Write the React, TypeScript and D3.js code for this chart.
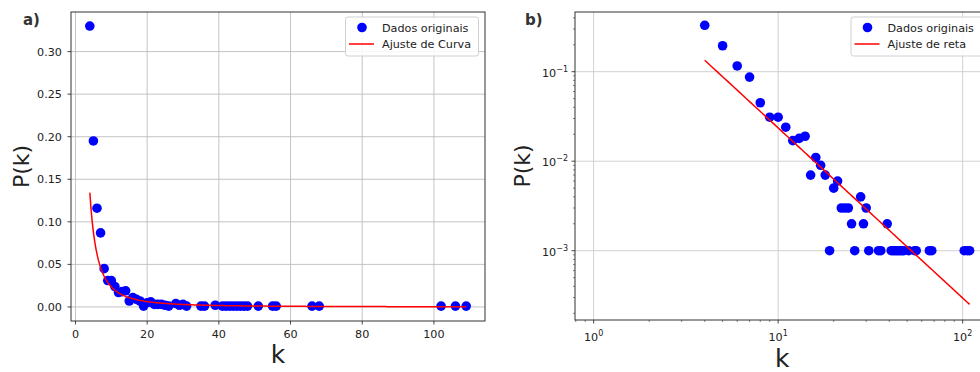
import React from "react";
import * as d3 from "d3";

// Degree distribution: node degree k and its observed probability P(k)
const degrees = [
  4, 5, 6, 7, 8, 9, 10, 11, 12, 13, 14, 15, 16, 17, 18, 19, 20, 21, 22, 23, 24, 25, 26,
  28, 29, 30, 31, 35, 36, 39, 41, 42, 43, 44, 45, 46, 47, 48, 51, 55, 56, 66, 68, 102, 106, 109,
];
const probabilities = [
  0.33, 0.195, 0.116, 0.087, 0.045, 0.031, 0.031, 0.024, 0.017, 0.018, 0.019, 0.007, 0.011,
  0.009, 0.007, 0.001, 0.005, 0.006, 0.003, 0.003, 0.003, 0.002, 0.001, 0.004, 0.002, 0.003,
  0.001, 0.001, 0.001, 0.002, 0.001, 0.001, 0.001, 0.001, 0.001, 0.001, 0.001, 0.001, 0.001,
  0.001, 0.001, 0.001, 0.001, 0.001, 0.001, 0.001,
];

// Fitted power law P(k) = C * k^(-gamma)
const fitC = 1.87;
const fitGamma = 1.9;
const fitRange = [4, 109];

const linXTicks = [0, 20, 40, 60, 80, 100];
const linYTicks = [0, 0.05, 0.1, 0.15, 0.2, 0.25, 0.3];
const logXTicks = [1, 10, 100];
const logYTicks = [0.1, 0.01, 0.001];

const legendLeft = ["Dados originais", "Ajuste de Curva"];
const legendRight = ["Dados originais", "Ajuste de reta"];

const FONT = "DejaVu Sans, sans-serif";
const TXT = "#222";
const BLUE = "#0000ff";
const RED = "#ff0000";

const points = degrees.map((k, i) => ({ k, p: probabilities[i] }));
const fitPoints = d3
  .range(0, 301)
  .map((i) => fitRange[0] + ((fitRange[1] - fitRange[0]) * i) / 300)
  .map((k) => ({ k, p: fitC * Math.pow(k, -fitGamma) }));

function Legend({ x, y, w, labels }: { x: number; y: number; w: number; labels: string[] }) {
  return (
    <g>
      <rect x={x} y={y} width={w} height={39} rx={2.5} fill="white" fillOpacity={0.85} stroke="#d0d0d0" strokeWidth={1} />
      <circle cx={x + 16.5} cy={y + 10.5} r={4.8} fill={BLUE} />
      <line x1={x + 3.5} x2={x + 28.5} y1={y + 27} y2={y + 27} stroke={RED} strokeWidth={1.5} />
      <text x={x + 36.5} y={y + 14.5} fontSize={11.2} fill={TXT} fontFamily={FONT}>{labels[0]}</text>
      <text x={x + 36.5} y={y + 31} fontSize={11.2} fill={TXT} fontFamily={FONT}>{labels[1]}</text>
    </g>
  );
}

function Pow10({ x, y, exp, anchor }: { x: number; y: number; exp: number; anchor: "middle" | "end" }) {
  const e = exp < 0 ? "\u2212" + Math.abs(exp) : String(exp);
  return (
    <text x={x} y={y} fontSize={11.2} fill={TXT} fontFamily={FONT} textAnchor={anchor}>
      10<tspan fontSize={8} dy={-5}>{e}</tspan>
    </text>
  );
}

export default function App() {
  // Panel a): linear axes
  const L = { left: 71, right: 485, top: 12, bottom: 321 };
  const xL = d3.scaleLinear().domain([-1.25, 114.25]).range([L.left, L.right]);
  const yL = d3.scaleLinear().domain([-0.0165, 0.3465]).range([L.bottom, L.top]);
  const lineL = d3
    .line<{ k: number; p: number }>()
    .x((d) => xL(d.k))
    .y((d) => yL(d.p));

  // Panel b): log-log axes
  const R = { left: 575, right: 988.3, top: 12, bottom: 320 };
  const xR = d3.scaleLog().domain([Math.pow(10, -0.101), Math.pow(10, 2.139)]).range([R.left, R.right]);
  const yR = d3.scaleLog().domain([Math.pow(10, -3.774), Math.pow(10, -0.333)]).range([R.bottom, R.top]);
  const lineR = d3
    .line<{ k: number; p: number }>()
    .x((d) => xR(d.k))
    .y((d) => yR(d.p));

  const [xr0, xr1] = xR.domain();
  const [yr0, yr1] = yR.domain();
  const minorX: number[] = [];
  for (let dec = -1; dec <= 2; dec++) {
    for (let m = 2; m <= 9; m++) {
      const v = m * Math.pow(10, dec);
      if (v >= xr0 && v <= xr1) minorX.push(v);
    }
  }
  const minorY: number[] = [];
  for (let dec = -4; dec <= -1; dec++) {
    for (let m = 2; m <= 9; m++) {
      const v = m * Math.pow(10, dec);
      if (v >= yr0 && v <= yr1) minorY.push(v);
    }
  }

  return (
    <svg width={980} height={372} style={{ position: "absolute", left: 0, top: 0, background: "white" }}>
      <rect x={0} y={0} width={980} height={372} fill="white" />

      <defs>
        <clipPath id="clipL">
          <rect x={L.left} y={L.top} width={L.right - L.left} height={L.bottom - L.top} />
        </clipPath>
        <clipPath id="clipR">
          <rect x={R.left} y={R.top} width={R.right - R.left} height={R.bottom - R.top} />
        </clipPath>
      </defs>

      {/* ---------- a) linear ---------- */}
      <g>
        {linXTicks.map((t) => (
          <line key={"gx" + t} x1={xL(t)} x2={xL(t)} y1={L.top} y2={L.bottom} stroke="#bdbdbd" strokeWidth={0.9} />
        ))}
        {linYTicks.map((t) => (
          <line key={"gy" + t} x1={L.left} x2={L.right} y1={yL(t)} y2={yL(t)} stroke="#bdbdbd" strokeWidth={0.9} />
        ))}
        <g clipPath="url(#clipL)">
          {points.map((d, i) => (
            <circle key={i} cx={xL(d.k)} cy={yL(d.p)} r={4.8} fill={BLUE} />
          ))}
          <path d={lineL(fitPoints) || ""} fill="none" stroke={RED} strokeWidth={1.5} />
        </g>
        <rect x={L.left} y={L.top} width={L.right - L.left} height={L.bottom - L.top} fill="none" stroke="#333" strokeWidth={1} />
        {linXTicks.map((t) => (
          <g key={"tx" + t}>
            <line x1={xL(t)} x2={xL(t)} y1={L.bottom} y2={L.bottom + 3.5} stroke="#333" strokeWidth={0.9} />
            <text x={xL(t)} y={L.bottom + 16.5} fontSize={11.2} fill={TXT} fontFamily={FONT} textAnchor="middle">
              {t}
            </text>
          </g>
        ))}
        {linYTicks.map((t) => (
          <g key={"ty" + t}>
            <line x1={L.left - 3.5} x2={L.left} y1={yL(t)} y2={yL(t)} stroke="#333" strokeWidth={0.9} />
            <text x={L.left - 9} y={yL(t) + 4} fontSize={11.2} fill={TXT} fontFamily={FONT} textAnchor="end">
              {t.toFixed(2)}
            </text>
          </g>
        ))}
        <text x={(L.left + L.right) / 2} y={363} fontSize={25} fill={TXT} fontFamily={FONT} textAnchor="middle">
          k
        </text>
        <text transform={`translate(29,${(L.top + L.bottom) / 2}) rotate(-90)`} fontSize={22} fill={TXT} fontFamily={FONT} textAnchor="middle">
          P(k)
        </text>
        <text x={23} y={25} fontSize={15} fontWeight="bold" fill="#333" fontFamily={FONT}>
          a)
        </text>
        <Legend x={345.5} y={17} w={133} labels={legendLeft} />
      </g>

      {/* ---------- b) log-log ---------- */}
      <g>
        {logXTicks.map((t) => (
          <line key={"gx" + t} x1={xR(t)} x2={xR(t)} y1={R.top} y2={R.bottom} stroke="#cccccc" strokeWidth={0.9} />
        ))}
        {logYTicks.map((t) => (
          <line key={"gy" + t} x1={R.left} x2={R.right} y1={yR(t)} y2={yR(t)} stroke="#cccccc" strokeWidth={0.9} />
        ))}
        <g clipPath="url(#clipR)">
          {points.map((d, i) => (
            <circle key={i} cx={xR(d.k)} cy={yR(d.p)} r={4.8} fill={BLUE} />
          ))}
          <path d={lineR(fitPoints) || ""} fill="none" stroke={RED} strokeWidth={1.5} />
        </g>
        <rect x={R.left} y={R.top} width={R.right - R.left} height={R.bottom - R.top} fill="none" stroke="#333" strokeWidth={1} />
        {minorX.map((t) => (
          <line key={"mx" + t} x1={xR(t)} x2={xR(t)} y1={R.bottom} y2={R.bottom + 2} stroke="#333" strokeWidth={0.6} />
        ))}
        {minorY.map((t) => (
          <line key={"my" + t} x1={R.left - 2} x2={R.left} y1={yR(t)} y2={yR(t)} stroke="#333" strokeWidth={0.6} />
        ))}
        {logXTicks.map((t) => (
          <g key={"tx" + t}>
            <line x1={xR(t)} x2={xR(t)} y1={R.bottom} y2={R.bottom + 3.5} stroke="#333" strokeWidth={0.9} />
            <Pow10 x={xR(t)} y={R.bottom + 21} exp={Math.round(Math.log10(t))} anchor="middle" />
          </g>
        ))}
        {logYTicks.map((t) => (
          <g key={"ty" + t}>
            <line x1={R.left - 3.5} x2={R.left} y1={yR(t)} y2={yR(t)} stroke="#333" strokeWidth={0.9} />
            <Pow10 x={R.left - 7} y={yR(t) + 5} exp={Math.round(Math.log10(t))} anchor="end" />
          </g>
        ))}
        <text x={xR(10) + 4} y={367} fontSize={25} fill={TXT} fontFamily={FONT} textAnchor="middle">
          k
        </text>
        <text transform={`translate(530,${(R.top + R.bottom) / 2}) rotate(-90)`} fontSize={22} fill={TXT} fontFamily={FONT} textAnchor="middle">
          P(k)
        </text>
        <text x={525} y={25} fontSize={15} fontWeight="bold" fill="#333" fontFamily={FONT}>
          b)
        </text>
        <Legend x={851} y={17} w={140} labels={legendRight} />
      </g>
    </svg>
  );
}
